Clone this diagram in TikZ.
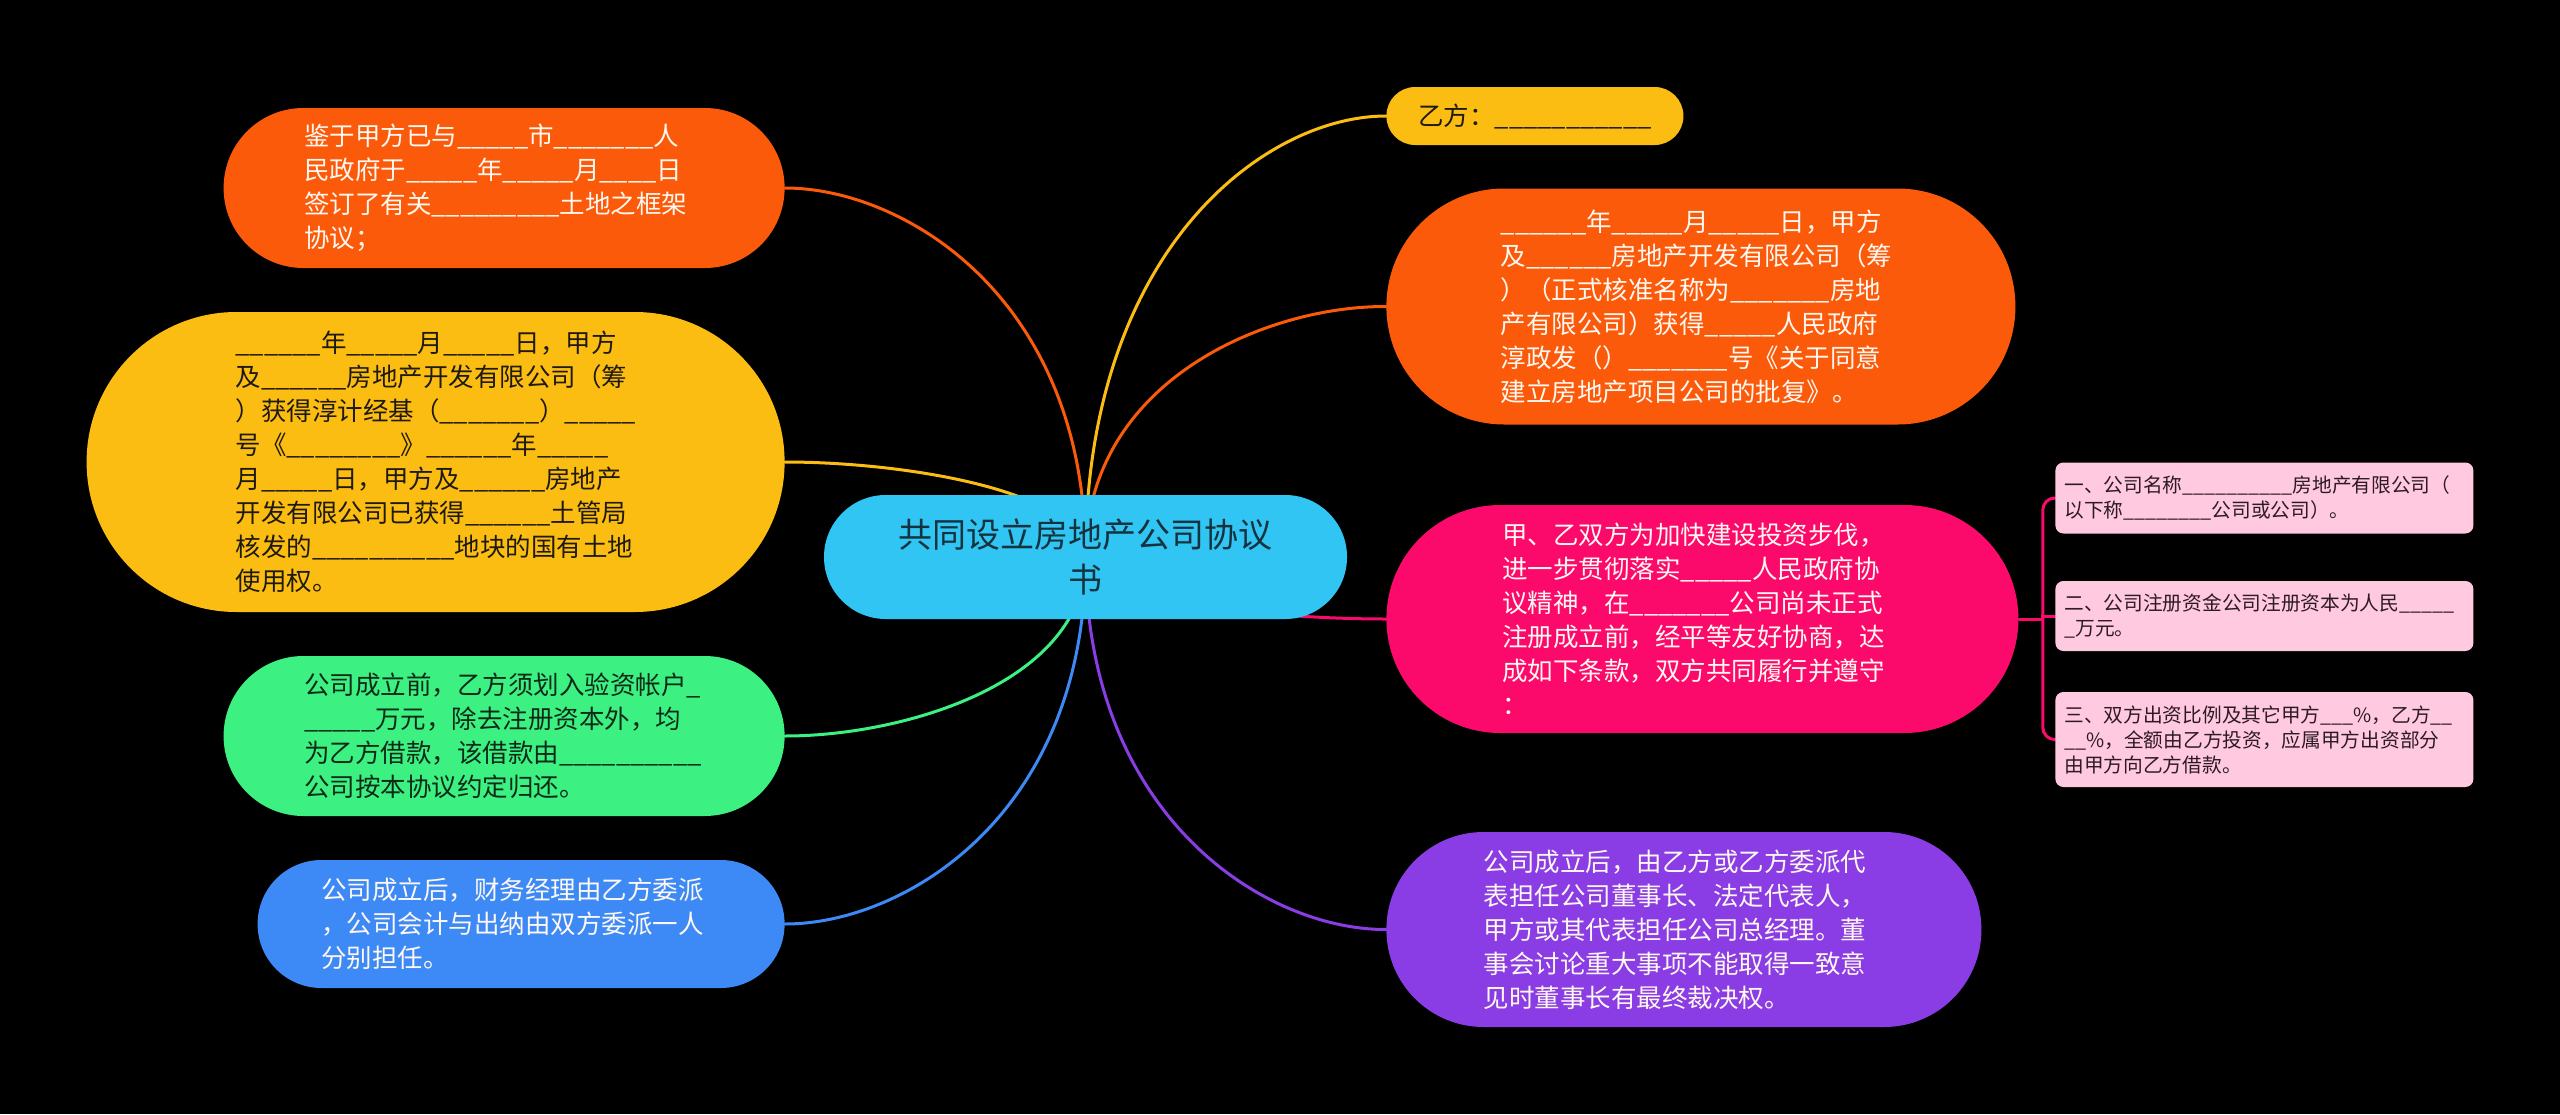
\documentclass[tikz,border=0pt]{standalone}
\usepackage{fontspec}
\setmainfont{Noto Sans CJK SC}
\pgfdeclarelayer{bg}
\pgfdeclarelayer{lines}
\pgfsetlayers{bg,lines,main}
\definecolor{corange}{HTML}{FB5A0B}
\definecolor{cyellow}{HTML}{FCBD13}
\definecolor{cgreen}{HTML}{3CF081}
\definecolor{cblue}{HTML}{3D8AF7}
\definecolor{ccenter}{HTML}{31C5F4}
\definecolor{cpink}{HTML}{FC0A6B}
\definecolor{cpurple}{HTML}{8A3CE5}
\definecolor{csub}{HTML}{FFC9DF}
\definecolor{cdark}{HTML}{1E1A10}
\definecolor{cgdark}{HTML}{0E2A18}
\definecolor{ccdark}{HTML}{15333F}
\definecolor{csubtext}{HTML}{2E1A25}
\definecolor{cwhite}{HTML}{FFF8F0}
\newcount\blcnt
\newcommand\bl[1]{\blcnt=0 \loop\ifnum\blcnt<#1 \_\advance\blcnt by 1 \repeat}
\newcommand\fsmain{\fontsize{12.75pt}{17pt}\selectfont}
\newcommand\fscen{\fontsize{17pt}{22.5pt}\selectfont}
\newcommand\fssub{\fontsize{9.85pt}{12.5pt}\selectfont}
\tikzset{
  topic/.style={inner sep=0pt, align=left, text width=200pt, font=\fsmain},
  subbox/.style={fill=csub, text=csubtext, rounded corners=4pt, inner xsep=4.5pt, inner ysep=0pt,
    align=left, text width=200pt, font=\fssub, minimum width=209pt, anchor=west},
  conn/.style={line width=1.5pt, draw=#1, line cap=round},
}
\begin{document}
\begin{tikzpicture}[x=0.5pt,y=-0.5pt]
\useasboundingbox (0,0) rectangle (2560,1114);
\begin{pgfonlayer}{bg}
\fill[black] (0,0) rectangle (2560,1114);
\end{pgfonlayer}

% center
\node[fill=ccenter, text=ccdark, font=\fscen, align=center, inner sep=0pt,
  minimum width=261.5pt, minimum height=62pt, rounded corners=30.9pt] (c) at (1085.5,557)
  {共同设立房地产公司协议\\书};

% left nodes
\node[topic, fill=corange, text=cwhite, minimum width=280.5pt, minimum height=80pt,
  rounded corners=39.9pt, anchor=east] (l1) at (785,188) {%
鉴于甲方已与\bl{5}市\bl{7}人\\
民政府于\bl{5}年\bl{5}月\bl{4}日\\
签订了有关\bl{9}土地之框架\\
协议；};

\node[topic, fill=cyellow, text=cdark, minimum width=349pt, minimum height=150pt,
  rounded corners=74.9pt, anchor=east] (l2) at (785,462) {%
\bl{6}年\bl{5}月\bl{5}日，甲方\\
及\bl{6}房地产开发有限公司（筹\\
）获得淳计经基（\bl{7}）\bl{5}\\
号《\bl{8}》\bl{6}年\bl{5}\\
月\bl{5}日，甲方及\bl{6}房地产\\
开发有限公司已获得\bl{6}土管局\\
核发的\bl{10}地块的国有土地\\
使用权。};

\node[topic, fill=cgreen, text=cgdark, minimum width=280.5pt, minimum height=80pt,
  rounded corners=39.9pt, anchor=east] (l3) at (785,736) {%
公司成立前，乙方须划入验资帐户\_\\
\bl{5}万元，除去注册资本外，均\\
为乙方借款，该借款由\bl{10}\\
公司按本协议约定归还。};

\node[topic, fill=cblue, text=cwhite, minimum width=263.5pt, minimum height=64pt,
  rounded corners=31.9pt, anchor=east] (l4) at (785,924) {%
公司成立后，财务经理由乙方委派\\
，公司会计与出纳由双方委派一人\\
分别担任。};

% right nodes
\node[fill=cyellow, text=cdark, font=\fsmain, inner sep=0pt, minimum width=148.5pt,
  minimum height=29pt, rounded corners=14.4pt, anchor=west] (r1) at (1386,116) {乙方：\bl{11}};

\node[topic, fill=corange, text=cwhite, minimum width=314.5pt, minimum height=118pt,
  rounded corners=58.9pt, anchor=west] (r2) at (1386,306.5) {%
\bl{6}年\bl{5}月\bl{5}日，甲方\\
及\bl{6}房地产开发有限公司（筹\\
）（正式核准名称为\bl{7}房地\\
产有限公司）获得\bl{5}人民政府\\
淳政发（）\bl{7}号《关于同意\\
建立房地产项目公司的批复》。};

\node[topic, fill=cpink, text=cwhite, minimum width=316pt, minimum height=114pt,
  rounded corners=56.9pt, anchor=west] (r3) at (1386,619) {%
甲、乙双方为加快建设投资步伐，\\
进一步贯彻落实\bl{5}人民政府协\\
议精神，在\bl{7}公司尚未正式\\
注册成立前，经平等友好协商，达\\
成如下条款，双方共同履行并遵守\\
：};

\node[topic, fill=cpurple, text=cwhite, minimum width=297.5pt, minimum height=97.5pt,
  rounded corners=48.6pt, anchor=west] (r4) at (1386,929.5) {%
公司成立后，由乙方或乙方委派代\\
表担任公司董事长、法定代表人，\\
甲方或其代表担任公司总经理。董\\
事会讨论重大事项不能取得一致意\\
见时董事长有最终裁决权。};

% sub nodes
\node[subbox, minimum height=35.5pt] (s1) at (2055,498) {%
一、公司名称\bl{10}房地产有限公司（\\
以下称\bl{8}公司或公司）。};
\node[subbox, minimum height=35pt] (s2) at (2055,616) {%
二、公司注册资金公司注册资本为人民\bl{5}\\
\_万元。};
\node[subbox, minimum height=47.5pt] (s3) at (2055,739.5) {%
三、双方出资比例及其它甲方\bl{3}\%，乙方\bl{2}\\
\bl{2}\%，全额由乙方投资，应属甲方出资部分\\
由甲方向乙方借款。};

% connectors
\begin{pgfonlayer}{lines}
\draw[conn=corange] (c.center) .. controls (1086,299) and (905,188) .. (l1.east);
\draw[conn=cyellow] (c.center) .. controls (1086,491) and (905,462) .. (l2.east);
\draw[conn=cgreen] (c.center) .. controls (1086,682) and (905,736) .. (l3.east);
\draw[conn=cblue] (c.center) .. controls (1086,814) and (905,924) .. (l4.east);
\draw[conn=cyellow] (c.center) .. controls (1086,248) and (1266,116) .. (r1.west);
\draw[conn=corange] (c.center) .. controls (1086,381) and (1266,306) .. (r2.west);
\draw[conn=cpink] (c.center) .. controls (1086,600) and (1266,619) .. (r3.west);
\draw[conn=cpurple] (c.center) .. controls (1086,818) and (1266,930) .. (r4.west);
\draw[conn=cpink] (r3.east) -- ++(24,0) coordinate (br);
\draw[conn=cpink, rounded corners=6pt] (br) |- (s1.west);
\draw[conn=cpink] (br) |- (s2.west);
\draw[conn=cpink, rounded corners=6pt] (br) |- (s3.west);
\end{pgfonlayer}
\end{tikzpicture}
\end{document}
